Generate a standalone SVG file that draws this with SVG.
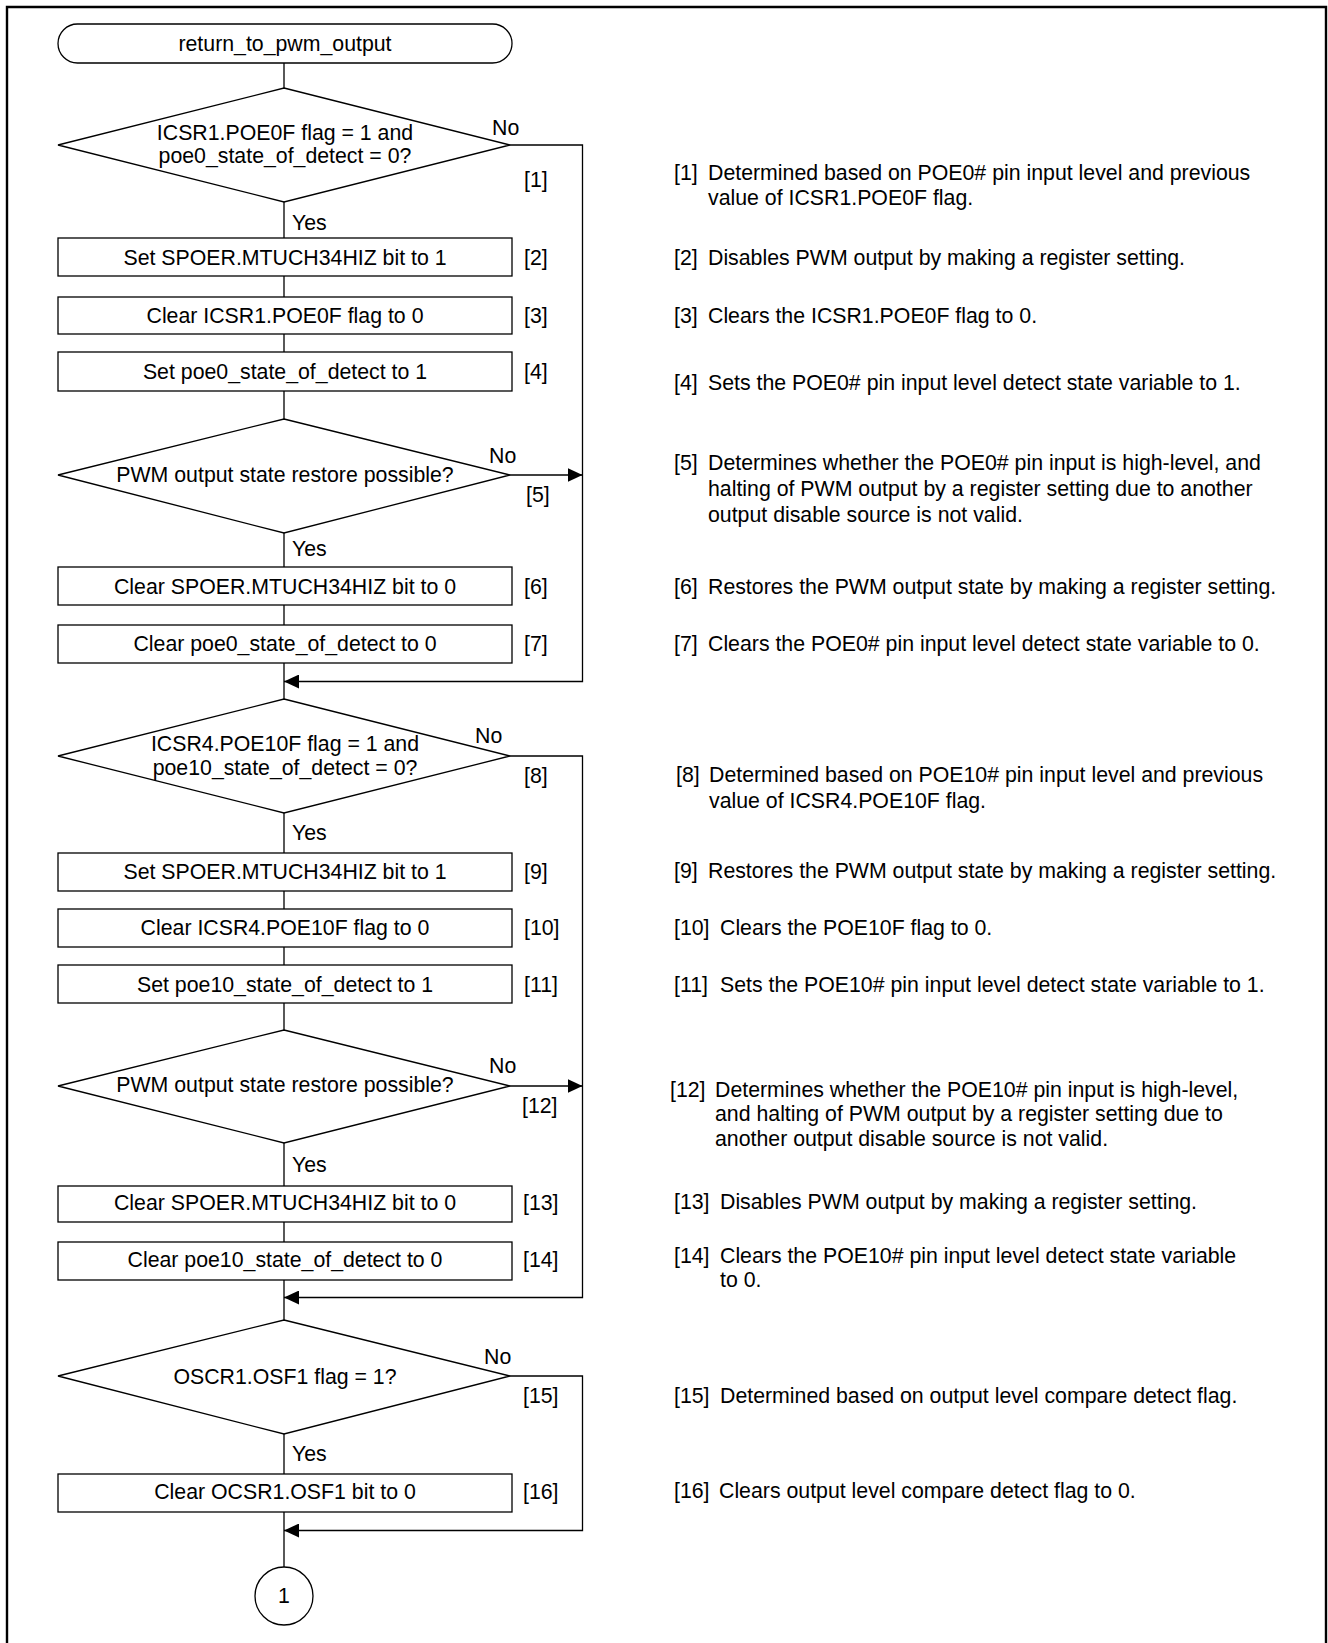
<svg xmlns="http://www.w3.org/2000/svg" width="1328" height="1643" viewBox="0 0 1328 1643">
  <style>
    text { font-family: "Liberation Sans", Arial, sans-serif; font-size: 21.3px; fill: #000; }
    .m { text-anchor: middle; }
    .shape { fill: #fff; stroke: #000; stroke-width: 1.3; }
    .line { fill: none; stroke: #000; stroke-width: 1.3; }
    .frame { fill: none; stroke: #000; stroke-width: 2.4; }
  </style>
  <defs>
    <marker id="arrow" viewBox="0 0 15 14" refX="15" refY="7" markerWidth="15" markerHeight="14" markerUnits="userSpaceOnUse" orient="auto">
      <path d="M0,0 L15,7 L0,14 Z" fill="#000"/>
    </marker>
  </defs>

  <rect width="1328" height="1643" fill="#fff"/>
  <!-- outer frame (open at the bottom edge) -->
  <path class="frame" d="M7,1643 V7 H1326 V1643"/>

  <!-- connectors -->
  <g id="connectors">
    <path class="line" d="M284,63 V88 M284,202 V238 M284,276 V297 M284,334 V352 M284,391 V419 M284,533 V567 M284,605 V625 M284,663 V699 M284,813 V853 M284,891 V909 M284,947 V965 M284,1003 V1030 M284,1143 V1186 M284,1222 V1242 M284,1280 V1320 M284,1434 V1474 M284,1512 V1567"/>
    <path class="line" d="M510,145 H582.5 V681.5 H284" marker-end="url(#arrow)"/>
    <path class="line" d="M510,475 H582.5" marker-end="url(#arrow)"/>
    <path class="line" d="M510,756 H582.5 V1297.5 H284" marker-end="url(#arrow)"/>
    <path class="line" d="M510,1086 H582.5" marker-end="url(#arrow)"/>
    <path class="line" d="M510,1376 H582.5 V1530.5 H284" marker-end="url(#arrow)"/>
    <text x="492" y="135">No</text>
    <text x="292" y="230">Yes</text>
    <text x="489" y="463">No</text>
    <text x="292" y="556">Yes</text>
    <text x="475" y="743">No</text>
    <text x="292" y="840">Yes</text>
    <text x="489" y="1073">No</text>
    <text x="292" y="1172">Yes</text>
    <text x="484" y="1364">No</text>
    <text x="292" y="1461">Yes</text>
  </g>

  <!-- flowchart nodes -->
  <g id="start">
    <rect class="shape" x="58" y="24" width="454" height="39" rx="19.5" ry="19.5"/>
    <text class="m" x="285" y="51">return_to_pwm_output</text>
  </g>

  <g id="step1">
    <polygon class="shape" points="284,88 510,145 284,202 58,145"/>
    <text class="m" x="285" y="140">ICSR1.POE0F flag = 1 and</text>
    <text class="m" x="285" y="163">poe0_state_of_detect = 0?</text>
    <text x="524" y="187">[1]</text>
  </g>

  <g id="step2">
    <rect class="shape" x="58" y="238" width="454" height="38"/>
    <text class="m" x="285" y="265">Set SPOER.MTUCH34HIZ bit to 1</text>
    <text x="524" y="265">[2]</text>
  </g>

  <g id="step3">
    <rect class="shape" x="58" y="297" width="454" height="37"/>
    <text class="m" x="285" y="323">Clear ICSR1.POE0F flag to 0</text>
    <text x="524" y="323">[3]</text>
  </g>

  <g id="step4">
    <rect class="shape" x="58" y="352" width="454" height="39"/>
    <text class="m" x="285" y="379">Set poe0_state_of_detect to 1</text>
    <text x="524" y="379">[4]</text>
  </g>

  <g id="step5">
    <polygon class="shape" points="284,419 510,475 284,533 58,475"/>
    <text class="m" x="285" y="482">PWM output state restore possible?</text>
    <text x="526" y="502">[5]</text>
  </g>

  <g id="step6">
    <rect class="shape" x="58" y="567" width="454" height="38"/>
    <text class="m" x="285" y="594">Clear SPOER.MTUCH34HIZ bit to 0</text>
    <text x="524" y="594">[6]</text>
  </g>

  <g id="step7">
    <rect class="shape" x="58" y="625" width="454" height="38"/>
    <text class="m" x="285" y="651">Clear poe0_state_of_detect to 0</text>
    <text x="524" y="651">[7]</text>
  </g>

  <g id="step8">
    <polygon class="shape" points="284,699 510,756 284,813 58,756"/>
    <text class="m" x="285" y="751">ICSR4.POE10F flag = 1 and</text>
    <text class="m" x="285" y="775">poe10_state_of_detect = 0?</text>
    <text x="524" y="783">[8]</text>
  </g>

  <g id="step9">
    <rect class="shape" x="58" y="853" width="454" height="38"/>
    <text class="m" x="285" y="879">Set SPOER.MTUCH34HIZ bit to 1</text>
    <text x="524" y="879">[9]</text>
  </g>

  <g id="step10">
    <rect class="shape" x="58" y="909" width="454" height="38"/>
    <text class="m" x="285" y="935">Clear ICSR4.POE10F flag to 0</text>
    <text x="524" y="935">[10]</text>
  </g>

  <g id="step11">
    <rect class="shape" x="58" y="965" width="454" height="38"/>
    <text class="m" x="285" y="992">Set poe10_state_of_detect to 1</text>
    <text x="524" y="992">[11]</text>
  </g>

  <g id="step12">
    <polygon class="shape" points="284,1030 510,1086 284,1143 58,1086"/>
    <text class="m" x="285" y="1092">PWM output state restore possible?</text>
    <text x="522" y="1113">[12]</text>
  </g>

  <g id="step13">
    <rect class="shape" x="58" y="1186" width="454" height="36"/>
    <text class="m" x="285" y="1210">Clear SPOER.MTUCH34HIZ bit to 0</text>
    <text x="523" y="1210">[13]</text>
  </g>

  <g id="step14">
    <rect class="shape" x="58" y="1242" width="454" height="38"/>
    <text class="m" x="285" y="1267">Clear poe10_state_of_detect to 0</text>
    <text x="523" y="1267">[14]</text>
  </g>

  <g id="step15">
    <polygon class="shape" points="284,1320 510,1376 284,1434 58,1376"/>
    <text class="m" x="285" y="1384">OSCR1.OSF1 flag = 1?</text>
    <text x="523" y="1403">[15]</text>
  </g>

  <g id="step16">
    <rect class="shape" x="58" y="1474" width="454" height="38"/>
    <text class="m" x="285" y="1499">Clear OCSR1.OSF1 bit to 0</text>
    <text x="523" y="1499">[16]</text>
  </g>

  <g id="connector1">
    <circle class="shape" cx="284" cy="1596" r="29"/>
    <text class="m" x="284" y="1603">1</text>
  </g>

  <!-- step descriptions -->
  <g id="notes">
    <text x="674" y="180">[1]</text>
    <text x="708" y="180">Determined based on POE0# pin input level and previous</text>
    <text x="708" y="205">value of ICSR1.POE0F flag.</text>

    <text x="674" y="265">[2]</text>
    <text x="708" y="265">Disables PWM output by making a register setting.</text>

    <text x="674" y="323">[3]</text>
    <text x="708" y="323">Clears the ICSR1.POE0F flag to 0.</text>

    <text x="674" y="390">[4]</text>
    <text x="708" y="390">Sets the POE0# pin input level detect state variable to 1.</text>

    <text x="674" y="470">[5]</text>
    <text x="708" y="470">Determines whether the POE0# pin input is high-level, and</text>
    <text x="708" y="496">halting of PWM output by a register setting due to another</text>
    <text x="708" y="522">output disable source is not valid.</text>

    <text x="674" y="594">[6]</text>
    <text x="708" y="594">Restores the PWM output state by making a register setting.</text>

    <text x="674" y="651">[7]</text>
    <text x="708" y="651">Clears the POE0# pin input level detect state variable to 0.</text>

    <text x="676" y="782">[8]</text>
    <text x="709" y="782">Determined based on POE10# pin input level and previous</text>
    <text x="709" y="808">value of ICSR4.POE10F flag.</text>

    <text x="674" y="878">[9]</text>
    <text x="708" y="878">Restores the PWM output state by making a register setting.</text>

    <text x="674" y="935">[10]</text>
    <text x="720" y="935">Clears the POE10F flag to 0.</text>

    <text x="674" y="992">[11]</text>
    <text x="720" y="992">Sets the POE10# pin input level detect state variable to 1.</text>

    <text x="670" y="1097">[12]</text>
    <text x="715" y="1097">Determines whether the POE10# pin input is high-level,</text>
    <text x="715" y="1121">and halting of PWM output by a register setting due to</text>
    <text x="715" y="1146">another output disable source is not valid.</text>

    <text x="674" y="1209">[13]</text>
    <text x="720" y="1209">Disables PWM output by making a register setting.</text>

    <text x="674" y="1263">[14]</text>
    <text x="720" y="1263">Clears the POE10# pin input level detect state variable</text>
    <text x="720" y="1287">to 0.</text>

    <text x="674" y="1403">[15]</text>
    <text x="720" y="1403">Determined based on output level compare detect flag.</text>

    <text x="674" y="1498">[16]</text>
    <text x="719" y="1498">Clears output level compare detect flag to 0.</text>
  </g>
</svg>
